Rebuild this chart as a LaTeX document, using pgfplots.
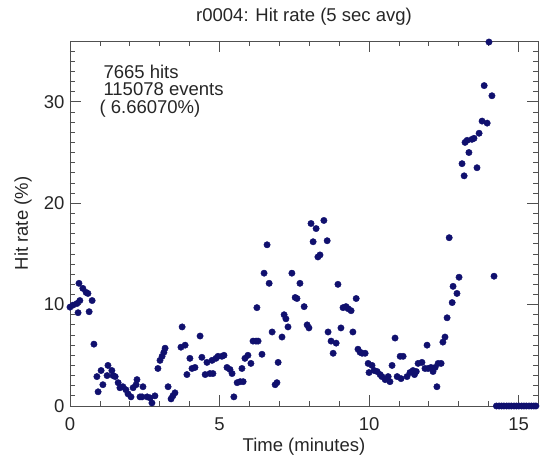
\documentclass[border=0pt]{standalone}
\usepackage{fontspec}
\setmainfont{Liberation Sans}
\usepackage{pgfplots}
\pgfplotsset{compat=1.18}
\definecolor{pts}{RGB}{16,16,110}
\definecolor{axc}{RGB}{80,80,80}
\newcommand{\bigf}{\fontsize{18.5}{20}\selectfont}
\begin{document}
\begin{tikzpicture}
\begin{axis}[
  at={(0,0)}, anchor=south west,
  scale only axis, width=468pt, height=365pt,
  xmin=0, xmax=15.65, ymin=0, ymax=36,
  xtick={0,5,10,15}, ytick={0,10,20,30},
  xticklabels={0,5,10,15}, yticklabels={0,10,20,30},
  minor xtick={1,2,3,4,6,7,8,9,11,12,13,14},
  minor ytick={1,2,...,9,11,12,...,19,21,22,...,29,31,32,...,35},
  xtick pos=both, ytick pos=both,
  xtick align=inside, ytick align=inside,
  major tick length=11pt, minor tick length=5pt,
  xtick style={color=axc, line width=0.8pt},
  ytick style={color=axc, line width=0.8pt},
  axis line style={axc, line width=0.8pt},
  tick label style={font=\bigf, text=black!85},
  xticklabel style={anchor=base, yshift=-25pt},
  yticklabel style={anchor=east, xshift=-2pt},
  title={r0004: Hit rate (5 sec avg)},
  title style={font=\bigf, at={(axis description cs:0.5,1)}, anchor=base, yshift=13pt, text=black!85},
  xlabel={Time (minutes)},
  xlabel style={font=\bigf, at={(axis description cs:0.5,0)}, anchor=base, yshift=-46pt, text=black!85},
  ylabel={Hit rate (\%)},
  ylabel style={font=\bigf, at={(axis description cs:0,0.5)}, anchor=base, yshift=42pt, text=black!85},
  clip=false,
]
\addplot[only marks, mark=*, mark size=3.2pt, color=pts, mark options={fill=pts, draw=pts}] coordinates {
(0.00,9.75) (0.10,9.95) (0.23,10.1) (0.27,9.2) (0.30,12.1) (0.33,10.4) (0.43,11.6) (0.54,11.2) (0.60,11.1) (0.64,9.3) (0.74,10.4)
(0.80,6.1) (0.90,2.9) (0.94,1.4) (1.04,3.5) (1.10,2.1) (1.24,3.0) (1.27,4.0) (1.40,3.5) (1.44,3.0) (1.51,2.9) (1.61,2.3)
(1.67,1.8) (1.77,1.9) (1.87,1.6) (1.94,1.2) (2.04,0.9) (2.11,1.8) (2.21,2.1) (2.24,2.6) (2.34,0.9) (2.41,0.9) (2.44,1.9)
(2.58,0.9) (2.68,0.8) (2.74,0.3) (2.84,1.0) (2.94,3.7) (3.01,4.5) (3.08,4.9) (3.14,5.3) (3.18,5.7) (3.28,1.9) (3.38,0.7)
(3.44,1.0) (3.51,1.3) (3.71,5.8) (3.75,7.8) (3.85,6.0) (3.91,3.1) (4.01,4.7) (4.08,3.7) (4.18,3.8) (4.35,6.9) (4.41,4.8)
(4.52,3.1) (4.58,4.3) (4.68,3.2) (4.75,4.5) (4.78,3.2) (4.88,4.7) (4.95,4.9) (5.08,4.9) (5.15,5.0) (5.25,3.8) (5.35,3.6)
(5.42,3.2) (5.48,0.9) (5.59,2.3) (5.69,2.4) (5.75,3.7) (5.79,2.4) (5.85,4.7) (5.95,5.0) (6.05,4.2) (6.12,6.4) (6.22,6.4)
(6.25,9.7) (6.29,6.4) (6.42,5.1) (6.49,13.1) (6.59,15.9) (6.66,12.1) (6.76,7.3) (6.86,2.1) (6.92,2.3) (6.96,4.3) (7.09,6.8)
(7.16,9.0) (7.22,8.6) (7.29,7.8) (7.42,13.1) (7.53,10.7) (7.59,10.6) (7.69,12.1) (7.83,9.8) (7.93,8.0) (7.99,7.7) (8.06,18.0)
(8.13,16.2) (8.23,17.5) (8.29,14.7) (8.36,14.9) (8.49,18.3) (8.60,16.3) (8.63,7.3) (8.73,6.4) (8.80,5.2) (8.90,6.2) (8.96,12.0)
(9.06,7.7) (9.13,9.7) (9.23,9.8) (9.30,9.6) (9.40,9.4) (9.46,7.3) (9.57,10.6) (9.63,5.6) (9.70,5.3) (9.77,5.2) (9.87,5.2)
(9.97,4.2) (10.00,3.3) (10.10,4.0) (10.17,3.5) (10.27,3.4) (10.37,3.1) (10.43,2.9) (10.54,2.6) (10.64,2.9) (10.70,2.4) (10.77,4.0)
(10.87,6.7) (10.94,2.9) (11.04,4.9) (11.07,2.7) (11.14,4.9) (11.27,2.9) (11.37,3.3) (11.47,3.5) (11.52,3.1) (11.58,3.4) (11.64,4.2)
(11.77,4.3) (11.87,3.7) (11.94,6.0) (11.97,3.7) (12.07,3.8) (12.14,3.4) (12.21,3.8) (12.27,1.9) (12.31,4.2) (12.41,4.2) (12.47,6.3)
(12.54,6.8) (12.61,8.7) (12.68,16.6) (12.78,10.2) (12.81,11.8) (12.94,11.1) (13.01,12.7) (13.11,23.9) (13.18,22.7) (13.21,26.0) (13.28,26.2)
(13.34,25.0) (13.44,26.3) (13.51,26.4) (13.61,23.5) (13.68,26.9) (13.78,28.1) (13.85,31.6) (13.95,27.9) (14.01,35.9) (14.11,30.6) (14.18,12.8)
(14.26,0) (14.35,0) (14.43,0) (14.51,0) (14.60,0) (14.68,0) (14.76,0) (14.85,0) (14.93,0) (15.01,0) (15.10,0)
(15.18,0) (15.26,0) (15.35,0) (15.43,0) (15.51,0) (15.58,0)
};
\node[font=\bigf, anchor=base west, text=black!85] at (axis description cs:0.0641,0.8986) {7665 hits};
\node[font=\bigf, anchor=base west, text=black!85] at (axis description cs:0.0641,0.852) {115078 events};
\node[font=\bigf, anchor=base west, text=black!85] at (axis description cs:0.0556,0.8027) {( 6.66070\%)};
\end{axis}
\pgfresetboundingbox
\useasboundingbox (-70pt,-51pt) rectangle (472pt,406pt);
\end{tikzpicture}
\end{document}
